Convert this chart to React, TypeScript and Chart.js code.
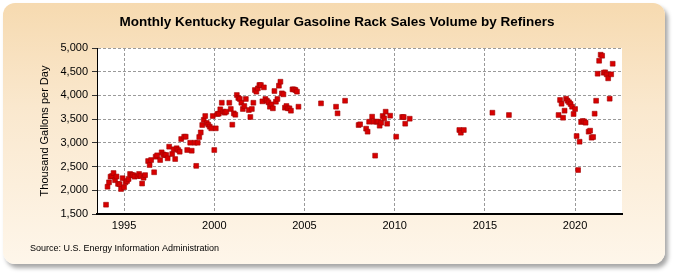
import React, { useEffect, useRef } from "react";
import { Chart, registerables } from "chart.js";

Chart.register(...registerables);

const TITLE = "Monthly Kentucky Regular Gasoline Rack Sales Volume by Refiners";
const Y_TITLE = "Thousand Gallons per Day";
const SOURCE = "Source: U.S. Energy Information Administration";

const X_MIN = 1993.5;
const X_MAX = 2022.6;
const X_TICKS = [1995, 2000, 2005, 2010, 2015, 2020];
const Y_MIN = 1500;
const Y_MAX = 5000;
const Y_STEP = 500;

const months: string[] = [
  "1994-01", "1994-02", "1994-03", "1994-04", "1994-05", "1994-06", "1994-07", "1994-08", "1994-09", "1994-10", "1994-11", "1994-12",
  "1995-01", "1995-02", "1995-03", "1995-04", "1995-05", "1995-06", "1995-07", "1995-08", "1995-10", "1995-11", "1995-12",
  "1996-01", "1996-02", "1996-03", "1996-05", "1996-06", "1996-07", "1996-09", "1996-10", "1996-11",
  "1997-01", "1997-02", "1997-03", "1997-04", "1997-05", "1997-06", "1997-07", "1997-09", "1997-10", "1997-11", "1997-12",
  "1998-01", "1998-02", "1998-03", "1998-05", "1998-06", "1998-07", "1998-09", "1998-10", "1998-12",
  "1999-01", "1999-02", "1999-03", "1999-04", "1999-05", "1999-06", "1999-07", "1999-08", "1999-09", "1999-10", "1999-11", "1999-12",
  "2000-01", "2000-02", "2000-03", "2000-04", "2000-05", "2000-06", "2000-07", "2000-08", "2000-09", "2000-11", "2000-12",
  "2001-01", "2001-02", "2001-03", "2001-04", "2001-05", "2001-06", "2001-07", "2001-08", "2001-09", "2001-10", "2001-12",
  "2002-01", "2002-02", "2002-03", "2002-04", "2002-05", "2002-06", "2002-07", "2002-08", "2002-09", "2002-10", "2002-11", "2002-12",
  "2003-01", "2003-02", "2003-03", "2003-04", "2003-05", "2003-06", "2003-07", "2003-08", "2003-09", "2003-10", "2003-11", "2003-12",
  "2004-01", "2004-02", "2004-03", "2004-04", "2004-05", "2004-06", "2004-07", "2004-08", "2004-09",
  "2005-12", "2006-10", "2006-11", "2007-04",
  "2008-01", "2008-02", "2008-06", "2008-07", "2008-08", "2008-10", "2008-11", "2008-12",
  "2009-01", "2009-02", "2009-03", "2009-04", "2009-05", "2009-06", "2009-07", "2009-08", "2009-10",
  "2010-02", "2010-06", "2010-07", "2010-08", "2010-11",
  "2013-08", "2013-09", "2013-11", "2015-06", "2016-05",
  "2019-02", "2019-03", "2019-04", "2019-05", "2019-06", "2019-07", "2019-08", "2019-09", "2019-10", "2019-11", "2019-12",
  "2020-01", "2020-02", "2020-03", "2020-04", "2020-05", "2020-06", "2020-07", "2020-08", "2020-10", "2020-11", "2020-12",
  "2021-01", "2021-02", "2021-03", "2021-04", "2021-05", "2021-06", "2021-07", "2021-08", "2021-09", "2021-10", "2021-11", "2021-12",
  "2022-01", "2022-02",
];

const volumes: number[] = [
  1696, 2075, 2168, 2287, 2301, 2364, 2212, 2290, 2135, 2130, 2027, 2255,
  2065, 2168, 2196, 2238, 2344, 2322, 2320, 2287, 2300, 2344, 2300,
  2142, 2265, 2320, 2617, 2533, 2638, 2380, 2708, 2737,
  2638, 2800, 2758, 2740, 2744, 2674, 2919, 2765, 2864, 2659, 2886,
  2849, 2813, 3081, 3130, 3130, 2849, 3003, 2834, 3003,
  2515, 3003, 3123, 3220, 3376, 3485, 3566, 3420, 3383, 3341, 3306, 3566,
  2849, 3306, 3608, 3615, 3707, 3846, 3657, 3636, 3657, 3846, 3714,
  3383, 3622, 3593, 4009, 3946, 3925, 3846, 3714, 3777, 3925, 3692,
  3545, 3714, 3846, 4114, 4079, 4149, 4219, 4219, 3875, 4170, 3925, 3888,
  3855, 3762, 3812, 3728, 4093, 3867, 3925, 4205, 4289, 4044, 4023, 3741,
  3777, 3728, 3728, 3678, 4128, 4128, 4114, 4079, 3762,
  3833, 3762, 3622, 3888,
  3376, 3391, 3299, 3236, 3446, 3552, 3446, 2730,
  3446, 3446, 3362, 3425, 3566, 3517, 3657, 3404, 3573,
  3130, 3545, 3545, 3404, 3509,
  3271, 3214, 3271, 3636, 3587,
  3587, 3904, 3825, 3530, 3678, 3931, 3888, 3855, 3819, 3762, 3608,
  3714, 3144, 2427, 3024, 3439, 3460, 3453, 3425, 3236, 3257, 3109,
  3123, 3615, 3888, 4458, 4731, 4858, 4837, 4479, 4487, 4445, 4360, 3931,
  4445, 4668,
];

const FONT = 'Arial, "Liberation Sans", sans-serif';

function toYear(m: string): number {
  const [y, mo] = m.split("-").map(Number);
  return y + (mo - 1) / 12;
}

const decorPlugin = {
  id: "decor",
  beforeDraw(chart: any) {
    const { ctx, chartArea: a } = chart;
    ctx.save();
    ctx.fillStyle = "#ffffff";
    ctx.fillRect(a.left, a.top, a.right - a.left, a.bottom - a.top);
    ctx.restore();
  },
  afterDraw(chart: any) {
    const { ctx } = chart;
    ctx.save();
    ctx.fillStyle = "#000";
    ctx.textBaseline = "middle";
    ctx.textAlign = "center";
    ctx.font = `bold 13.5px ${FONT}`;
    ctx.fillText(TITLE, 337, 22);
    ctx.textAlign = "left";
    ctx.font = `9px ${FONT}`;
    ctx.fillText(SOURCE, 30, 249);
    ctx.restore();
  },
};

export default function App() {
  const ref = useRef<HTMLCanvasElement | null>(null);

  useEffect(() => {
    if (!ref.current) return;
    Chart.defaults.font.family = FONT;
    const chart = new Chart(ref.current, {
      type: "scatter",
      data: {
        datasets: [
          {
            data: months.map((m, i) => ({ x: toYear(m), y: volumes[i] })),
            pointStyle: "rect",
            pointRadius: 3.4,
            pointHoverRadius: 3.4,
            backgroundColor: "#D80000",
            borderColor: "#A00000",
            borderWidth: 0.6,
            showLine: false,
          },
        ],
      },
      options: {
        animation: false,
        responsive: false,
        devicePixelRatio: 1,
        events: [],
        layout: { padding: { left: 0, top: 48, right: 53, bottom: 41 } },
        plugins: { legend: { display: false }, tooltip: { enabled: false }, title: { display: false } },
        scales: {
          x: {
            type: "linear",
            min: X_MIN,
            max: X_MAX,
            afterBuildTicks: (s: any) => {
              s.ticks = X_TICKS.map((v) => ({ value: v }));
            },
            afterFit: (s: any) => {
              s.height = 20;
            },
            ticks: {
              autoSkip: false,
              maxRotation: 0,
              padding: 5,
              color: "#000",
              font: { size: 11, family: FONT },
              callback: (v: any) => String(v),
            },
            grid: { color: "#9a9a9a", lineWidth: 1, drawTicks: false },
            border: { color: "#000", width: 2, dash: [3, 2] },
          },
          y: {
            type: "linear",
            min: Y_MIN,
            max: Y_MAX,
            afterFit: (s: any) => {
              s.width = 97;
            },
            ticks: {
              stepSize: Y_STEP,
              padding: 4,
              color: "#000",
              font: { size: 11, family: FONT },
              callback: (v: any) => Number(v).toLocaleString("en-US"),
            },
            grid: {
              color: (c: any) => (c.tick && c.tick.value === Y_MIN ? "rgba(0,0,0,0)" : "#9a9a9a"),
              lineWidth: 1,
              drawTicks: true,
              tickLength: 5,
              tickColor: "#333",
              tickBorderDash: [],
            },
            border: { color: "#000", width: 1, dash: [3, 2] },
            title: {
              display: true,
              text: Y_TITLE,
              color: "#000",
              font: { size: 11, family: FONT },
              padding: { top: 38, bottom: 0 },
            },
          },
        },
      },
      plugins: [decorPlugin],
    } as any);
    return () => chart.destroy();
  }, []);

  return (
    <div style={{ position: "absolute", left: 0, top: 0, width: 675, height: 275 }}>
      <div
        style={{
          position: "absolute",
          left: 3,
          top: 3,
          width: 662,
          height: 261,
          borderRadius: 12,
          background: "linear-gradient(180deg, #F6DAB0 0%, #FAE8CE 40%, #FEF6EA 100%)",
          boxShadow: "3px 4px 4px rgba(0,0,0,0.35)",
        }}
      />
      <canvas ref={ref} width={675} height={275} style={{ position: "absolute", left: 0, top: 0 }} />
    </div>
  );
}
